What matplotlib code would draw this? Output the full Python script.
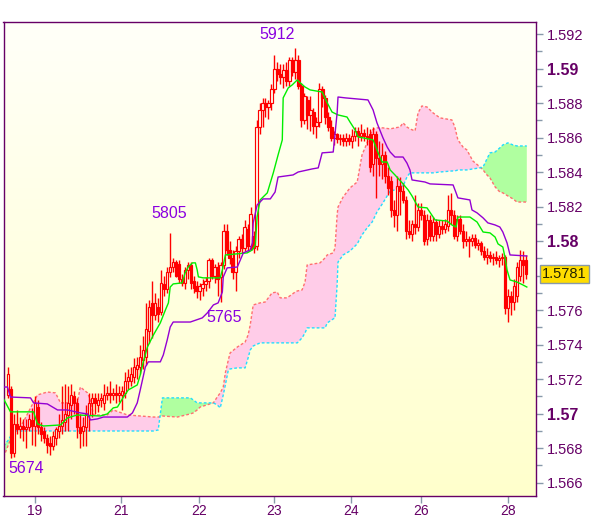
import numpy as np
import matplotlib
matplotlib.use("Agg")
import matplotlib.pyplot as plt
from matplotlib.transforms import blended_transform_factory

# ---------------- data (prices in pips: 5781 -> 1.5781) ----------------
opens = [5711, 5714, 5677, 5694, 5691, 5693, 5691, 5692, 5696, 5693,
         5704, 5692, 5690, 5686, 5683, 5681, 5686, 5690, 5693, 5695,
         5699, 5705, 5710, 5706, 5692, 5690, 5692, 5699, 5706, 5709,
         5705, 5708, 5706, 5711, 5712, 5711, 5712, 5711, 5711, 5712,
         5719, 5719, 5721, 5726, 5727, 5731, 5733, 5748, 5764, 5757,
         5762, 5759, 5775, 5772, 5782, 5785, 5788, 5787, 5778, 5776,
         5783, 5786, 5777, 5774, 5771, 5773, 5775, 5777, 5789, 5780,
         5785, 5779, 5786, 5806, 5795, 5790, 5782, 5794, 5801, 5796,
         5807, 5797, 5803, 5797, 5866, 5876, 5880, 5878, 5880, 5888,
         5900, 5897, 5895, 5899, 5893, 5905, 5898, 5905, 5890, 5870,
         5882, 5873, 5875, 5867, 5869, 5888, 5883, 5872, 5866, 5860,
         5862, 5859, 5860, 5858, 5860, 5858, 5861, 5864, 5861, 5863,
         5861, 5862, 5845, 5862, 5848, 5845, 5850, 5838, 5835, 5818,
         5815, 5832, 5829, 5824, 5806, 5804, 5810, 5808, 5818, 5815,
         5801, 5812, 5803, 5811, 5804, 5809, 5807, 5809, 5818, 5815,
         5803, 5813, 5806, 5800, 5801, 5800, 5802, 5798, 5799, 5794,
         5791, 5792, 5790, 5791, 5789, 5790, 5791, 5761, 5768, 5765,
         5768, 5780, 5789, 5789]
highs = [5727, 5716, 5700, 5702, 5698, 5697, 5697, 5700, 5703, 5710,
         5708, 5695, 5692, 5688, 5687, 5690, 5692, 5700, 5716, 5717,
         5716, 5717, 5713, 5709, 5700, 5698, 5705, 5712, 5712, 5712,
         5712, 5712, 5717, 5716, 5719, 5715, 5717, 5716, 5716, 5724,
         5726, 5727, 5732, 5733, 5740, 5745, 5764, 5766, 5777, 5770,
         5767, 5783, 5780, 5785, 5805, 5790, 5789, 5789, 5781, 5785,
         5788, 5788, 5780, 5777, 5776, 5778, 5779, 5790, 5790, 5787,
         5788, 5788, 5810, 5810, 5800, 5795, 5797, 5803, 5804, 5812,
         5810, 5820, 5806, 5870, 5880, 5883, 5883, 5882, 5891, 5908,
         5904, 5903, 5903, 5904, 5907, 5907, 5912, 5908, 5892, 5886,
         5884, 5884, 5877, 5872, 5892, 5890, 5885, 5875, 5870, 5864,
         5863, 5862, 5862, 5863, 5862, 5865, 5866, 5866, 5868, 5865,
         5866, 5865, 5866, 5864, 5858, 5857, 5852, 5843, 5838, 5824,
         5838, 5837, 5834, 5826, 5812, 5812, 5827, 5822, 5822, 5818,
         5816, 5815, 5814, 5813, 5812, 5812, 5813, 5827, 5828, 5818,
         5815, 5815, 5810, 5806, 5803, 5804, 5804, 5801, 5800, 5797,
         5796, 5794, 5793, 5794, 5792, 5793, 5792, 5772, 5771, 5778,
         5788, 5795, 5794, 5792]
lows = [5709, 5674, 5675, 5688, 5686, 5684, 5680, 5690, 5682, 5681,
        5688, 5684, 5683, 5677, 5676, 5679, 5682, 5686, 5688, 5690,
        5690, 5697, 5700, 5686, 5680, 5681, 5681, 5690, 5698, 5700,
        5701, 5704, 5702, 5708, 5706, 5708, 5706, 5707, 5702, 5709,
        5714, 5716, 5718, 5720, 5723, 5726, 5728, 5741, 5744, 5754,
        5753, 5757, 5768, 5770, 5779, 5782, 5779, 5776, 5774, 5772,
        5778, 5772, 5770, 5767, 5766, 5768, 5771, 5773, 5778, 5776,
        5768, 5765, 5784, 5792, 5787, 5778, 5771, 5790, 5793, 5794,
        5794, 5795, 5793, 5795, 5862, 5866, 5872, 5871, 5876, 5886,
        5893, 5891, 5889, 5890, 5890, 5896, 5894, 5888, 5866, 5868,
        5865, 5864, 5862, 5860, 5866, 5878, 5868, 5864, 5858, 5856,
        5857, 5856, 5855, 5855, 5856, 5854, 5858, 5855, 5858, 5858,
        5856, 5840, 5838, 5825, 5838, 5836, 5834, 5827, 5814, 5808,
        5806, 5815, 5822, 5801, 5802, 5800, 5804, 5806, 5812, 5798,
        5798, 5800, 5800, 5800, 5802, 5804, 5805, 5806, 5810, 5801,
        5800, 5804, 5796, 5797, 5791, 5797, 5796, 5795, 5792, 5789,
        5787, 5788, 5786, 5787, 5785, 5786, 5758, 5753, 5757, 5760,
        5765, 5777, 5776, 5778]
closes = [5723, 5677, 5694, 5691, 5693, 5691, 5692, 5697, 5693, 5706,
          5692, 5688, 5686, 5682, 5681, 5687, 5691, 5693, 5696, 5700,
          5706, 5711, 5706, 5692, 5689, 5693, 5700, 5706, 5709, 5706,
          5708, 5709, 5711, 5712, 5711, 5712, 5711, 5712, 5713, 5719,
          5721, 5723, 5727, 5728, 5733, 5737, 5749, 5762, 5757, 5764,
          5758, 5776, 5772, 5782, 5785, 5788, 5780, 5778, 5776, 5783,
          5786, 5776, 5773, 5771, 5774, 5775, 5777, 5789, 5780, 5785,
          5778, 5786, 5806, 5795, 5790, 5782, 5794, 5801, 5796, 5808,
          5797, 5816, 5796, 5866, 5876, 5880, 5878, 5880, 5888, 5900,
          5897, 5895, 5899, 5893, 5905, 5898, 5905, 5890, 5870, 5884,
          5873, 5876, 5867, 5869, 5888, 5883, 5872, 5866, 5860, 5862,
          5859, 5860, 5858, 5860, 5858, 5861, 5864, 5861, 5863, 5861,
          5860, 5843, 5862, 5848, 5845, 5850, 5838, 5831, 5818, 5815,
          5832, 5829, 5824, 5806, 5804, 5810, 5808, 5818, 5815, 5800,
          5812, 5803, 5811, 5804, 5809, 5807, 5810, 5818, 5815, 5803,
          5813, 5806, 5800, 5801, 5800, 5802, 5798, 5799, 5794, 5791,
          5792, 5790, 5791, 5789, 5790, 5791, 5761, 5768, 5765, 5774,
          5785, 5789, 5786, 5781]

# Ichimoku cloud edges (bar index, pips)
cloud_x = [-1.4, 0.2, 1.9, 4.2, 5.9, 7.6, 9.9, 13.2, 15.9, 17.6, 23.2, 24.2,
           26.6, 27.6, 28.6, 33.2, 35.2, 39.9, 48.6, 50.2, 51.6, 56.6, 60.9,
           61.9, 63.2, 64.2, 68.6, 69.9, 70.9, 71.9, 72.6, 73.6, 74.2, 76.6,
           79.2, 80.2, 80.9, 81.9, 84.2, 85.9, 88.2, 89.9, 90.9, 93.2, 95.9,
           96.6, 98.2, 99.2, 99.9, 104.2, 105.9, 106.6, 108.6, 109.2, 109.9,
           110.2, 111.9, 114.2, 116.6, 118.2, 119.9, 121.6, 123.2, 125.2,
           127.6, 129.2, 130.9, 131.9, 133.2, 134.2, 135.9, 136.9, 138.2,
           139.9, 141.9, 144.2, 148.2, 149.2, 150.2, 151.9, 153.2, 155.2,
           157.6, 158.6, 159.9, 160.9, 162.6, 164.2, 165.2, 166.9, 168.6,
           169.9, 173.2]
span_a = [5674.8, 5681.8, 5689.3, 5692.2, 5697.5, 5703.3, 5710.8, 5712.5,
          5712.0, 5706.2, 5706.2, 5715.4, 5712.0, 5707.9, 5699.2, 5699.2,
          5702.1, 5699.2, 5698.0, 5698.0, 5698.6, 5698.0, 5699.8, 5700.4,
          5702.1, 5703.8, 5706.2, 5709.6, 5712.0, 5715.4, 5723.6, 5731.1,
          5735.2, 5738.6, 5741.5, 5745.6, 5751.4, 5763.0, 5764.2, 5764.7,
          5770.0, 5770.5, 5767.1, 5767.1, 5770.5, 5771.1, 5771.7, 5776.3,
          5786.2, 5787.4, 5790.3, 5792.0, 5793.2, 5796.1, 5815.2, 5819.8,
          5825.6, 5830.9, 5834.3, 5850.0, 5857.0, 5864.5, 5865.7, 5865.7,
          5865.1, 5865.7, 5866.2, 5868.6, 5866.2, 5865.1, 5863.9, 5874.4,
          5878.4, 5877.8, 5874.4, 5871.5, 5870.3, 5866.2, 5858.7, 5854.6,
          5852.9, 5846.5, 5843.0, 5841.3, 5838.4, 5836.7, 5831.5, 5828.5,
          5828.0, 5826.2, 5824.5, 5822.7, 5822.7]
span_b = [5681.2, 5684.7, 5689.9, 5689.9, 5689.9, 5689.9, 5689.9, 5689.9,
          5689.9, 5689.9, 5689.9, 5689.9, 5689.9, 5689.9, 5689.9, 5689.9,
          5689.9, 5689.9, 5689.9, 5690.5, 5709.1, 5709.1, 5709.1, 5707.9,
          5706.2, 5706.2, 5706.2, 5705.0, 5703.3, 5710.8, 5716.6, 5725.3,
          5725.9, 5726.5, 5726.5, 5732.3, 5736.9, 5739.2, 5741.0, 5741.0,
          5741.0, 5741.0, 5741.0, 5741.0, 5741.0, 5741.0, 5743.9, 5746.8,
          5749.7, 5749.7, 5749.7, 5752.6, 5754.9, 5755.5, 5774.6, 5787.9,
          5792.0, 5794.3, 5798.4, 5803.6, 5807.7, 5811.1, 5816.9, 5822.2,
          5829.1, 5829.7, 5832.0, 5832.0, 5837.2, 5839.6, 5839.6, 5839.6,
          5839.6, 5839.6, 5839.6, 5840.1, 5840.7, 5840.7, 5841.3, 5841.3,
          5841.3, 5841.9, 5842.5, 5843.0, 5847.7, 5851.2, 5851.7, 5854.1,
          5855.8, 5857.0, 5855.8, 5855.2, 5855.2]

tenkan_x = [-1.4, 0.9, 8.6, 9.9, 11.9, 17.6, 19.9, 23.2, 30.9, 33.2, 35.2,
            36.6, 38.6, 40.2, 43.2, 44.2, 45.2, 46.6, 48.6, 50.9, 52.6, 53.6,
            54.2, 55.2, 58.2, 59.2, 60.2, 61.6, 62.6, 63.2, 63.6, 65.2, 70.9,
            71.6, 72.6, 79.9, 81.6, 82.6, 83.2, 84.2, 86.6, 88.6, 90.2, 91.6,
            91.9, 93.6, 94.9, 96.6, 97.6, 99.2, 100.9, 104.9, 106.6, 108.2,
            110.2, 113.2, 114.2, 115.9, 116.9, 118.6, 121.9, 123.6, 124.9,
            126.6, 127.6, 129.2, 131.6, 133.6, 134.9, 136.9, 139.9, 142.6,
            146.6, 148.2, 149.6, 150.2, 154.2, 156.6, 158.6, 160.9, 162.6,
            163.6, 165.2, 165.9, 166.6, 167.6, 169.9, 171.9, 173.2]
tenkan = [5708.5, 5701.0, 5701.0, 5694.0, 5692.8, 5693.4, 5697.5, 5699.2,
          5698.6, 5699.8, 5703.3, 5703.8, 5709.6, 5713.7, 5716.6, 5722.4,
          5729.9, 5738.6, 5745.6, 5752.6, 5760.1, 5764.2, 5773.4, 5775.2,
          5775.8, 5781.6, 5785.0, 5787.4, 5787.4, 5783.3, 5779.3, 5778.7,
          5778.7, 5783.3, 5792.0, 5793.2, 5794.9, 5797.8, 5814.0, 5823.9,
          5828.0, 5839.6, 5850.0, 5858.7, 5883.1, 5888.9, 5890.6, 5893.5,
          5891.8, 5889.4, 5887.7, 5886.5, 5880.2, 5874.9, 5873.2, 5872.0,
          5869.1, 5864.5, 5860.4, 5859.9, 5858.7, 5851.2, 5845.9, 5845.9,
          5841.3, 5838.4, 5833.8, 5829.7, 5826.2, 5819.8, 5819.3, 5812.3,
          5811.7, 5809.4, 5808.2, 5814.0, 5814.0, 5811.1, 5805.3, 5804.8,
          5802.4, 5798.4, 5796.6, 5790.8, 5783.3, 5777.5, 5776.3, 5774.6,
          5773.4]

kijun_x = [-1.4, -0.1, 0.9, 7.6, 8.6, 13.2, 16.6, 19.9, 24.2, 26.6, 27.6,
           29.9, 31.9, 39.9, 41.6, 43.2, 44.2, 45.9, 46.9, 50.9, 51.9, 53.2,
           54.2, 55.2, 60.9, 64.9, 66.6, 68.6, 70.2, 71.6, 71.9, 73.2, 76.6,
           78.6, 80.9, 81.6, 81.9, 83.2, 85.2, 87.6, 89.2, 90.2, 95.2, 96.9,
           101.6, 103.6, 104.9, 108.6, 109.9, 110.2, 112.6, 120.2, 121.9,
           123.2, 125.2, 126.6, 127.6, 129.2, 131.9, 133.2, 134.2, 134.9,
           139.2, 140.9, 148.6, 149.6, 150.2, 154.2, 154.9, 156.6, 158.6,
           160.2, 162.6, 164.2, 165.2, 166.6, 167.6, 173.2]
kijun = [5715.4, 5715.4, 5709.6, 5709.1, 5706.2, 5705.6, 5702.1, 5702.1,
         5700.4, 5699.8, 5696.3, 5696.9, 5698.0, 5698.0, 5700.4, 5706.2,
         5713.7, 5727.0, 5730.0, 5730.0, 5734.0, 5742.7, 5750.2, 5753.1,
         5753.1, 5755.5, 5758.4, 5763.0, 5764.2, 5770.5, 5779.2, 5784.5,
         5785.0, 5793.2, 5794.9, 5799.0, 5810.6, 5821.0, 5824.5, 5824.5,
         5828.5, 5837.2, 5838.4, 5840.1, 5841.9, 5842.5, 5851.2, 5851.7,
         5874.4, 5883.6, 5883.1, 5881.9, 5876.1, 5868.6, 5859.9, 5854.6,
         5851.7, 5848.8, 5848.8, 5845.3, 5841.3, 5835.5, 5834.3, 5833.2,
         5832.6, 5828.0, 5825.1, 5823.9, 5818.1, 5816.4, 5813.5, 5810.6,
         5809.4, 5808.2, 5805.3, 5799.0, 5792.0, 5791.4]

xtick_pos = [9.0, 37.9, 63.7, 88.9, 114.6, 137.9, 167.0]
xtick_labels = ["19", "21", "22", "23", "24", "26", "28"]
ytick_major = [1.566, 1.568, 1.570, 1.572, 1.574, 1.576, 1.578, 1.580,
               1.582, 1.584, 1.586, 1.588, 1.590, 1.592]
# "1.578" is hidden behind the last-price tag in the reference
ytick_labels = ["1.566", "1.568", "1.57", "1.572", "1.574", "1.576", "",
                "1.58", "1.582", "1.584", "1.586", "1.588", "1.59", "1.592"]
ytick_minor = [1.567, 1.569, 1.571, 1.573, 1.575, 1.577, 1.579, 1.581,
               1.583, 1.585, 1.587, 1.589, 1.591]

# swing labels: (text, bar index, pips)
swing_labels = [("5912", 90.0, 5919.6), ("5805", 53.9, 5815.8),
                ("5765", 72.2, 5755.5), ("5674", 6.2, 5667.9)]
last_price = 1.5781


def px(v):
    return 1.0 + np.asarray(v, dtype=float) / 10000.0


# ---------------- figure ----------------
plt.rcParams["font.family"] = ["Liberation Sans", "DejaVu Sans"]
fig = plt.figure(figsize=(6.0, 5.19), dpi=100)
fig.patch.set_facecolor("white")
ax = fig.add_axes([3.5 / 600, 23 / 519, 532 / 600, 474 / 519])
x0, x1 = -1.43, 176.1
y0, y1 = 1.56522, 1.59271
ax.set_xlim(x0, x1)
ax.set_ylim(y0, y1)

# gradient background
top = np.array([1.0, 1.0, 0.975])
bot = np.array([1.0, 1.0, 0.80])
t = np.linspace(0, 1, 256)[:, None, None]
grad = top * (1 - t) + bot * t
ax.imshow(grad, extent=[x0, x1, y0, y1], aspect="auto", origin="upper",
          zorder=0, interpolation="bilinear")

# cloud
cx = np.array(cloud_x)
sa = px(span_a)
sb = px(span_b)
ax.fill_between(cx, sa, sb, where=sa >= sb, interpolate=True,
                facecolor="#FFCCE8", edgecolor="none", zorder=1)
ax.fill_between(cx, sa, sb, where=sa < sb, interpolate=True,
                facecolor="#B0FFA0", edgecolor="none", zorder=1)
ax.plot(cx, sa, color="#FF6F6F", lw=1.0, ls=(0, (2, 1.5)), zorder=2)
ax.plot(cx, sb, color="#22DDFF", lw=1.0, ls=(0, (2, 1.5)), zorder=2)

# candles
idx = np.arange(len(closes))
o = px(opens); h = px(highs); l = px(lows); c = px(closes)
ax.vlines(idx, l, h, color="#FF0000", lw=1.0, zorder=3)
up = c >= o
bh = np.where(np.abs(c - o) < 1e-6, 1e-6, c - o)
ax.bar(idx[up], bh[up], bottom=o[up], width=0.72, facecolor="#FFFFF0",
       edgecolor="#FF0000", linewidth=0.85, zorder=4)
ax.bar(idx[~up], bh[~up], bottom=o[~up], width=0.72, facecolor="#FF0000",
       edgecolor="#FF0000", linewidth=0.85, zorder=4)

# tenkan / kijun
ax.plot(tenkan_x, px(tenkan), color="#00EE00", lw=1.0, zorder=5)
ax.plot(kijun_x, px(kijun), color="#9400D3", lw=1.0, zorder=5)

# swing labels
for txt, xi, pv in swing_labels:
    ax.text(xi, px(pv), txt, color="#8A00E0", fontsize=11.5,
            ha="center", va="center", zorder=6)

# axes styling
for s in ax.spines.values():
    s.set_color("#660066")
    s.set_linewidth(1.0)
ax.yaxis.tick_right()
ax.set_yticks(ytick_major)
ax.set_yticklabels(ytick_labels)
ax.set_yticks(ytick_minor, minor=True)
ax.set_xticks(xtick_pos)
ax.set_xticklabels(xtick_labels)
ax.tick_params(axis="both", which="both", direction="out", color="#8899AA",
               width=1.0, labelcolor="#660066", labelsize=10.5)
ax.tick_params(axis="y", which="major", length=5, pad=3)
ax.tick_params(axis="y", which="minor", length=4)
ax.tick_params(axis="x", which="major", length=5, pad=1, labelsize=10)
for lab in ax.get_yticklabels():
    if len(lab.get_text()) == 4:
        lab.set_fontweight("bold")
        lab.set_fontsize(11.5)

# last price tag
tr = blended_transform_factory(ax.transAxes, ax.transData)
ax.text(1.0 + 6.5 / 532, last_price, "1.5781", transform=tr, ha="left",
        va="center", fontsize=10.5, color="#222200", zorder=7,
        bbox=dict(boxstyle="square,pad=0.15", facecolor="#FFDD00",
                  edgecolor="#8899AA", linewidth=1.0))

fig.savefig("out.png", dpi=100, facecolor="white")
